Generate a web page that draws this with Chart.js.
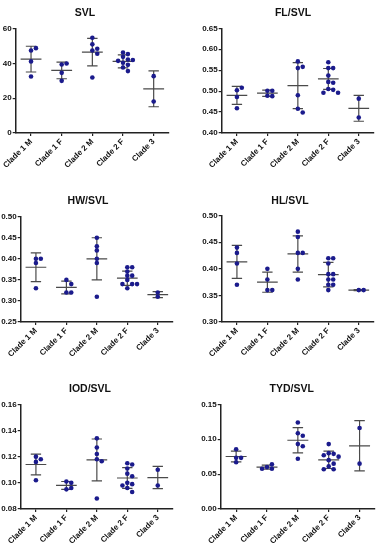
<!DOCTYPE html>
<html>
<head>
<meta charset="utf-8">
<script src="https://cdn.jsdelivr.net/npm/chart.js@4.4.1/dist/chart.umd.min.js"></script>
<style>
html, body { margin: 0; padding: 0; background: #fff; }
body { position: relative; width: 381px; height: 550px; overflow: hidden; }
canvas { position: absolute; }
</style>
</head>
<body>
<script>
const clades = ['Clade 1 M', 'Clade 1 F', 'Clade 2 M', 'Clade 2 F', 'Clade 3'];

// SVL
const svlPoints = [
    [47.5, 48.8, 41.2, 32.5],
    [39.4, 40.0, 34.6, 30.0],
    [54.8, 51.0, 47.5, 48.5, 45.6, 31.9],
    [46.3, 45.4, 43.8, 42.3, 41.5, 40.4, 39.2, 37.7, 35.6, 42.0],
    [32.7, 18.1]
];
const svlMean = [42.5, 36.0, 46.5, 41.2, 25.4];
const svlSd = [7.4, 4.8, 7.9, 3.7, 10.3];
const svlTicks = [0, 20, 40, 60];

// FL/SVL
const flPoints = [
    [0.502, 0.508, 0.486, 0.459],
    [0.501, 0.501, 0.489, 0.488],
    [0.571, 0.555, 0.558, 0.490, 0.458, 0.449],
    [0.569, 0.555, 0.555, 0.537, 0.522, 0.520, 0.505, 0.503, 0.496, 0.496],
    [0.482, 0.437]
];
const flMean = [0.490, 0.495, 0.513, 0.529, 0.459];
const flSd = [0.0215, 0.0075, 0.055, 0.025, 0.031];
const flTicks = [0.40, 0.45, 0.50, 0.55, 0.60, 0.65];

// HW/SVL
const hwPoints = [
    [0.39, 0.40, 0.40, 0.33],
    [0.35, 0.34, 0.32, 0.32],
    [0.45, 0.43, 0.42, 0.40, 0.39, 0.31],
    [0.37, 0.38, 0.38, 0.36, 0.36, 0.35, 0.34, 0.34, 0.34, 0.33],
    [0.32, 0.31]
];
const hwMean = [0.380, 0.332, 0.400, 0.354, 0.315];
const hwSd = [0.034, 0.015, 0.050, 0.017, 0.007];
const hwTicks = [0.25, 0.30, 0.35, 0.40, 0.45, 0.50];

// HL/SVL
const hlPoints = [
    [0.44, 0.43, 0.41, 0.37],
    [0.40, 0.38, 0.36, 0.36],
    [0.47, 0.46, 0.43, 0.43, 0.40, 0.38],
    [0.42, 0.42, 0.41, 0.39, 0.39, 0.38, 0.38, 0.37, 0.37, 0.36],
    [0.36, 0.36]
];
const hlMean = [0.413, 0.375, 0.428, 0.389, 0.360];
const hlSd = [0.031, 0.019, 0.034, 0.023, 0.0008];
const hlTicks = [0.30, 0.35, 0.40, 0.45, 0.50];

// IOD/SVL
const iodPoints = [
    [0.120, 0.116, 0.118, 0.102],
    [0.101, 0.100, 0.095, 0.096],
    [0.134, 0.127, 0.122, 0.118, 0.1165, 0.088],
    [0.115, 0.114, 0.111, 0.107, 0.105, 0.100, 0.099, 0.098, 0.096, 0.093],
    [0.110, 0.098]
];
const iodMean = [0.114, 0.098, 0.1175, 0.1037, 0.104];
const iodSd = [0.008, 0.003, 0.016, 0.0079, 0.0085];
const iodTicks = [0.08, 0.10, 0.12, 0.14, 0.16];

// TYD/SVL
const tydPoints = [
    [0.0857, 0.0733, 0.0733, 0.067],
    [0.060, 0.064, 0.0576, 0.0576],
    [0.124, 0.1086, 0.105, 0.093, 0.090, 0.072],
    [0.093, 0.080, 0.079, 0.077, 0.075, 0.070, 0.065, 0.061, 0.057, 0.057],
    [0.116, 0.065]
];
const tydMean = [0.0752, 0.060, 0.0985, 0.0705, 0.0905];
const tydSd = [0.0078, 0.0028, 0.018, 0.0125, 0.036];
const tydTicks = [0.00, 0.05, 0.10, 0.15];

// page layout of each panel (px): axis line x, axis right end, title centre, plot top/bottom
const panels = [
    { title: 'SVL', points: svlPoints, mean: svlMean, sd: svlSd, ticks: svlTicks, digits: 0,
      box: { left: -5, axisX: 15.7, right: 173, titleX: 85, titleY: 12.7, top: 28.7, bottom: 132.7 } },
    { title: 'FL/SVL', points: flPoints, mean: flMean, sd: flSd, ticks: flTicks, digits: 2,
      box: { left: 191, axisX: 221.7, right: 377.7, titleX: 293, titleY: 12.7, top: 28.3, bottom: 133.3 } },
    { title: 'HW/SVL', points: hwPoints, mean: hwMean, sd: hwSd, ticks: hwTicks, digits: 2,
      box: { left: -5, axisX: 20.7, right: 177.3, titleX: 88, titleY: 200.7, top: 216.7, bottom: 321.7 } },
    { title: 'HL/SVL', points: hlPoints, mean: hlMean, sd: hlSd, ticks: hlTicks, digits: 2,
      box: { left: 191, axisX: 221.7, right: 378, titleX: 290, titleY: 200.7, top: 215.7, bottom: 321.7 } },
    { title: 'IOD/SVL', points: iodPoints, mean: iodMean, sd: iodSd, ticks: iodTicks, digits: 2,
      box: { left: -5, axisX: 20.7, right: 177.3, titleX: 90, titleY: 389, top: 404.3, bottom: 509.3 } },
    { title: 'TYD/SVL', points: tydPoints, mean: tydMean, sd: tydSd, ticks: tydTicks, digits: 2,
      box: { left: 191, axisX: 220.7, right: 379, titleX: 291.7, titleY: 389, top: 404.3, bottom: 509.3 } }
];

const FONT = "'Liberation Sans', Arial, sans-serif";
const DOT = '#1b1b8c';
const BAR = '#4a4a4a';
const STEP = 0.16;      // horizontal spread between neighbouring dots (category units)
const MEAN_HALF = 0.34;
const CAP_HALF = 0.17;
const X_AXIS_H = 46;

// draws the panel heading at a fixed spot above the plot
const panelTitle = {
    id: 'panelTitle',
    afterDraw(chart, args, opts) {
        const ctx = chart.ctx;
        ctx.save();
        ctx.font = `bold ${opts.size}px ${FONT}`;
        ctx.fillStyle = '#111';
        ctx.textAlign = 'center';
        ctx.textBaseline = 'middle';
        ctx.fillText(opts.text, opts.x, opts.y);
        ctx.restore();
    }
};

// simple beeswarm: dots that would overlap get pushed sideways
function spreadOffsets(values, range) {
    const thr = range * 4.2 / 105;
    const placed = [];
    return values.map(v => {
        for (let k = 0; k < 20; k++) {
            const off = k === 0 ? 0 : (k % 2 ? 1 : -1) * Math.ceil(k / 2) * STEP;
            if (!placed.some(q => q.off === off && Math.abs(q.v - v) < thr)) {
                placed.push({ v, off });
                return off;
            }
        }
        return 0;
    });
}

function makePanel(p) {
    const b = p.box;
    const left = b.left;
    const top = Math.round(b.titleY - 10);
    const width = Math.round(b.right - left);
    const height = Math.round(b.bottom - top + X_AXIS_H);
    const yW = b.axisX - left;

    const canvas = document.createElement('canvas');
    canvas.width = width;
    canvas.height = height;
    canvas.style.left = left + 'px';
    canvas.style.top = top + 'px';
    canvas.style.width = width + 'px';
    canvas.style.height = height + 'px';
    document.body.appendChild(canvas);

    const yMin = p.ticks[0];
    const yMax = p.ticks[p.ticks.length - 1];

    const dots = [];
    p.points.forEach((vals, i) => {
        const offs = spreadOffsets(vals, yMax - yMin);
        vals.forEach((v, j) => dots.push({ x: i + offs[j], y: v }));
    });

    const bars = [];
    p.mean.forEach((m, i) => {
        const hi = m + p.sd[i], lo = m - p.sd[i];
        bars.push({ x: i - MEAN_HALF, y: m }, { x: i + MEAN_HALF, y: m }, { x: i, y: null });
        bars.push({ x: i - CAP_HALF, y: hi }, { x: i + CAP_HALF, y: hi }, { x: i, y: null });
        bars.push({ x: i - CAP_HALF, y: lo }, { x: i + CAP_HALF, y: lo }, { x: i, y: null });
        bars.push({ x: i, y: lo }, { x: i, y: hi }, { x: i, y: null });
    });

    new Chart(canvas.getContext('2d'), {
        data: {
            datasets: [
                { type: 'scatter', data: dots, pointRadius: 2.3, pointBackgroundColor: DOT, pointBorderWidth: 0, order: 0 },
                { type: 'line', data: bars, borderColor: BAR, borderWidth: 1.2, pointRadius: 0, spanGaps: false, tension: 0, fill: false, order: 1 }
            ]
        },
        plugins: [panelTitle],
        options: {
            responsive: false,
            animation: false,
            layout: { padding: { left: 0, right: 0, top: b.top - top, bottom: 0 } },
            plugins: {
                legend: { display: false },
                tooltip: { enabled: false },
                title: { display: false },
                panelTitle: { text: p.title, x: b.titleX - left, y: b.titleY - top, size: 10.5 }
            },
            scales: {
                x: {
                    type: 'linear', min: -0.5, max: 4.5,
                    afterBuildTicks: s => { s.ticks = clades.map((c, i) => ({ value: i })); },
                    afterFit: s => { s.height = X_AXIS_H; s.paddingLeft = 0; s.paddingRight = 0; },
                    border: { color: '#222', width: 1.5 },
                    grid: { drawOnChartArea: false, drawTicks: true, tickLength: 3, color: '#222', lineWidth: 1.2 },
                    ticks: {
                        minRotation: 45, maxRotation: 45, padding: 1, color: '#111',
                        font: { family: FONT, size: 8, weight: 'bold' },
                        callback: v => clades[v]
                    }
                },
                y: {
                    min: yMin, max: yMax,
                    afterBuildTicks: s => { s.ticks = p.ticks.map(v => ({ value: v })); },
                    afterFit: s => { s.width = yW; s.paddingTop = 0; s.paddingBottom = 0; },
                    border: { color: '#222', width: 1.5 },
                    grid: { drawOnChartArea: false, drawTicks: true, tickLength: 3, color: '#222', lineWidth: 1.2 },
                    ticks: {
                        padding: 1, color: '#111',
                        font: { family: FONT, size: 8, weight: 'bold' },
                        callback: v => Number(v).toFixed(p.digits)
                    }
                }
            }
        }
    });
}

panels.forEach(makePanel);
</script>
</body>
</html>
